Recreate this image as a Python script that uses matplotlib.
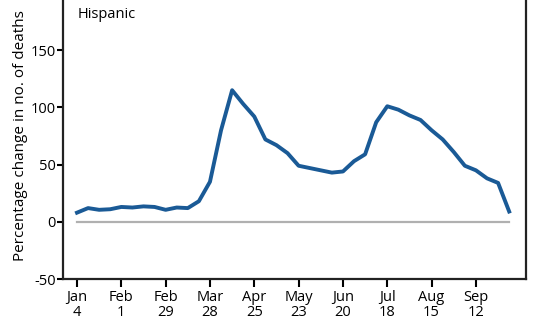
import matplotlib
matplotlib.use("Agg")
import matplotlib.pyplot as plt

plt.rcParams['font.family'] = ['Open Sans', 'DejaVu Sans']
plt.rcParams['axes.unicode_minus'] = False

# weekly percentage change in deaths, weeks starting Jan 4
weeks = list(range(40))
pct_change = [8, 12, 10.5, 11, 13, 12.5, 13.5, 13, 10.5, 12.5,
              12, 18, 35, 80, 115, 103, 92, 72, 67, 60,
              49, 47, 45, 43, 44, 53, 59, 87, 101, 98,
              93, 89, 80, 72, 61, 49, 45, 38, 34, 9]
tick_weeks = [0, 4, 8, 12, 16, 20, 24, 28, 32, 36]
tick_labels = ["Jan\n4", "Feb\n1", "Feb\n29", "Mar\n28", "Apr\n25",
               "May\n23", "Jun\n20", "Jul\n18", "Aug\n15", "Sep\n12"]
y_ticks = [-50, 0, 50, 100, 150]

fig = plt.figure(figsize=(5.4, 3.2), dpi=100)
ax = fig.add_axes([0.1167, 0.128, 0.857, 0.894])

ax.plot([weeks[0], weeks[-1]], [0, 0], color="#b0b0b0", lw=1.6, zorder=1)
ax.plot(weeks, pct_change, color="#1a5a96", lw=2.8, solid_joinstyle="round", zorder=2)

ax.set_xlim(-1.26, 40.5)
ax.set_ylim(-50, 200)
ax.set_xticks(tick_weeks)
ax.set_xticklabels(tick_labels, fontsize=10.5, linespacing=0.95)
ax.set_yticks(y_ticks)
ax.tick_params(axis="y", length=4, width=1.5, labelsize=10.5, pad=1)
ax.tick_params(axis="x", length=6, width=1.5, pad=2)

for s in ax.spines.values():
    s.set_linewidth(1.6)
    s.set_color("#222222")

ax.set_ylabel("Percentage change in no. of deaths", fontsize=11, labelpad=2)
ax.text(0.1, 181, "Hispanic", fontsize=10.5, va="center", ha="left")

fig.savefig("out.png", dpi=100)
